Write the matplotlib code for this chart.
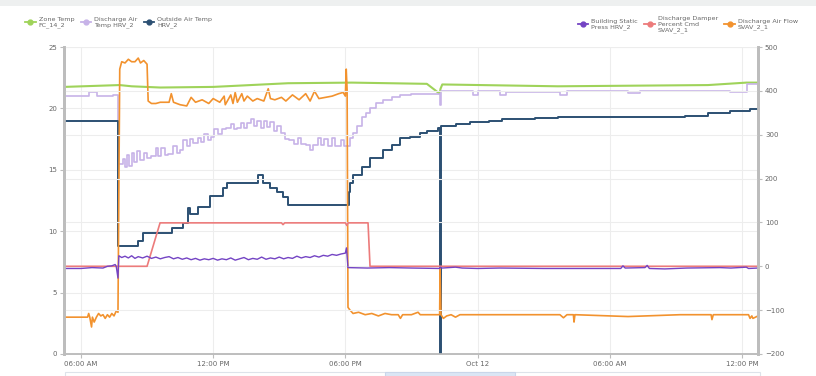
import pandas as pd
import matplotlib
matplotlib.use("Agg")
import matplotlib.pyplot as plt
import matplotlib.dates as mdates
from matplotlib.lines import Line2D
from matplotlib.patches import Rectangle

base = pd.Timestamp("2021-10-11")

# hours since Oct 11 00:00
zone_t = [5.23, 7.75, 8.3, 9.6, 12.0, 13.7, 15.4, 18.3, 21.7, 22.28, 22.32, 22.4, 27.65, 34.46, 36.2, 36.73]
zone_v = [21.75, 21.9, 21.8, 21.7, 21.75, 21.9, 22.05, 22.1, 22.0, 21.2, 21.6, 21.95, 21.8, 21.9, 22.1, 22.1]

dat_t = [5.23, 6.35, 6.75, 7.45, 7.68, 7.9, 8.0, 8.1, 8.2, 8.3, 8.4, 8.55, 8.7, 8.85, 9.0, 9.2, 9.4, 9.5,
         9.65, 9.8, 9.95, 10.2, 10.35, 10.5, 10.65, 10.8, 10.95, 11.1, 11.3, 11.45, 11.6, 11.75, 11.9,
         12.05, 12.2, 12.4, 12.6, 12.8, 12.95, 13.1, 13.25, 13.4, 13.55, 13.7, 13.85, 14.0, 14.15, 14.3,
         14.45, 14.6, 14.75, 14.9, 15.1, 15.25, 15.45, 15.65, 15.85, 16.0, 16.2, 16.4, 16.55, 16.75, 16.9,
         17.05, 17.2, 17.4, 17.55, 17.8, 17.95, 18.1, 18.22, 18.35, 18.55, 18.76, 18.95, 19.12, 19.4,
         19.71, 20.1, 20.48, 21.0, 21.71, 22.28, 22.36, 23.66, 23.8, 24.0, 25.0, 25.3, 27.74, 28.06,
         30.83, 31.38, 35.46, 36.23, 36.73]
dat_v = [21.0, 21.3, 21.0, 21.1, 15.5, 15.9, 15.2, 16.2, 15.3, 16.4, 15.6, 16.5, 15.8, 16.4, 16.0, 16.1,
         16.8, 16.1, 16.8, 16.2, 16.3, 16.9, 16.4, 16.6, 17.4, 16.9, 17.5, 17.2, 17.6, 17.3, 17.9, 17.4,
         17.7, 18.3, 17.9, 18.3, 18.4, 18.7, 18.3, 18.4, 18.8, 18.4, 18.8, 19.1, 18.6, 19.0, 18.4, 19.0,
         18.5, 18.9, 18.2, 18.6, 18.0, 17.5, 17.4, 17.1, 17.6, 17.1, 17.0, 16.6, 17.0, 17.6, 17.0, 17.5,
         16.9, 17.6, 16.9, 17.4, 16.9, 16.9, 17.6, 18.0, 18.6, 19.3, 19.6, 20.0, 20.4, 20.7, 20.9, 21.1,
         21.2, 21.2, 20.3, 21.4, 21.4, 21.1, 21.4, 21.1, 21.35, 21.1, 21.45, 21.25, 21.45, 21.3, 22.0, 22.0]

oat_t = [5.23, 7.68, 8.59, 8.81, 10.13, 10.63, 10.86, 10.93, 11.3, 11.86, 12.45, 12.63, 14.03, 14.26,
         14.58, 14.9, 15.17, 15.4, 18.12, 18.15, 18.21, 18.35, 18.76, 19.12, 19.71, 20.1, 20.48, 20.93,
         21.4, 21.71, 22.2, 22.3, 22.34, 23.0, 23.66, 24.5, 25.1, 26.6, 27.65, 33.4, 34.46, 35.46, 36.37, 36.73]
oat_v = [19.0, 8.8, 9.2, 9.85, 10.3, 10.7, 11.9, 11.4, 12.0, 12.9, 13.5, 13.9, 14.6, 13.9,
         13.5, 13.2, 12.8, 12.1, 12.1, 13.2, 13.9, 14.6, 15.2, 16.0, 16.6, 17.0, 17.6, 17.7,
         18.0, 18.2, 18.4, 0.0, 18.6, 18.75, 18.9, 19.0, 19.1, 19.2, 19.27, 19.4, 19.6, 19.8, 19.97, 19.97]

flow_t = [5.23, 6.3, 6.35, 6.4, 6.48, 6.52, 6.6, 6.7, 6.8, 6.9, 7.0, 7.1, 7.2, 7.3, 7.4, 7.5, 7.6, 7.68,
          7.76, 7.85, 8.0, 8.15, 8.3, 8.45, 8.6, 8.7, 8.85, 9.0, 9.05, 9.2, 9.4, 9.6, 10.0, 10.1, 10.2,
          10.5, 10.8, 11.0, 11.2, 11.5, 11.8, 12.0, 12.3, 12.5, 12.55, 12.8, 12.9, 13.0, 13.1, 13.3, 13.4,
          13.55, 13.8, 14.0, 14.3, 14.5, 14.6, 14.8, 15.1, 15.3, 15.6, 15.9, 16.2, 16.4, 16.6, 16.8, 17.1,
          17.4, 17.7, 17.9, 18.0, 18.04, 18.08, 18.12, 18.2, 18.35, 18.6, 18.9, 19.2, 19.5, 19.8, 20.1,
          20.4, 20.5, 20.6, 21.0, 21.3, 21.4, 22.28, 22.3, 22.34, 22.45, 22.6, 22.8, 23.0, 23.2, 23.5,
          24.0, 25.0, 27.74, 27.9, 28.06, 28.35, 28.38, 28.42, 30.83, 33.19, 34.6, 34.64, 34.7, 36.3,
          36.37, 36.45, 36.5, 36.73]
flow_v = [3.0, 3.0, 3.3, 3.0, 2.2, 3.0, 2.6, 3.0, 3.3, 3.1, 3.2, 2.9, 3.2, 3.0, 3.3, 3.1, 3.5, 3.4,
          23.2, 23.8, 23.7, 24.0, 23.8, 23.8, 24.1, 23.7, 23.9, 23.6, 20.6, 20.4, 20.4, 20.5, 20.5, 21.2,
          20.5, 20.3, 20.2, 20.9, 20.5, 20.7, 20.4, 20.8, 20.5, 21.0, 20.3, 21.1, 20.4, 21.3, 20.5, 21.2,
          20.6, 21.0, 20.6, 20.8, 20.6, 21.6, 20.8, 20.7, 20.9, 20.6, 21.1, 20.7, 21.2, 20.6, 21.4, 20.8,
          20.9, 21.0, 21.2, 21.3, 21.0, 23.2, 21.5, 3.8, 3.6, 3.3, 3.4, 3.2, 3.3, 3.1, 3.3, 3.2,
          3.2, 2.9, 3.2, 3.2, 3.4, 3.2, 3.2, 7.0, 3.2, 2.9, 3.1, 3.2, 3.0, 3.2, 3.2,
          3.2, 3.2, 3.2, 2.95, 3.2, 3.2, 2.6, 3.2, 3.05, 3.2, 3.2, 2.8, 3.2, 3.2,
          2.9, 3.1, 2.9, 3.1]

press_t = [5.23, 6.0, 6.5, 7.0, 7.2, 7.4, 7.55, 7.6, 7.68, 7.72, 7.85, 8.0, 8.15, 8.3, 8.45, 8.6, 8.8,
           9.0, 9.2, 9.4, 9.6, 9.8, 10.0, 10.2, 10.4, 10.6, 10.8, 11.0, 11.2, 11.4, 11.6, 11.8, 12.0,
           12.2, 12.4, 12.6, 12.8, 13.0, 13.2, 13.4, 13.6, 13.8, 14.0, 14.2, 14.4, 14.6, 14.8, 15.0,
           15.2, 15.4, 15.6, 15.8, 16.0, 16.2, 16.4, 16.6, 16.8, 17.0, 17.2, 17.4, 17.6, 17.8, 18.0,
           18.05, 18.12, 19.0, 20.0, 21.0, 22.28, 22.3, 22.4, 23.0, 23.3, 24.0, 25.0, 27.0, 30.5, 30.6,
           30.7, 31.6, 31.7, 31.8, 32.5, 33.5, 35.0, 35.5, 36.2, 36.3, 36.73]
press_v = [-5, -5, -3, -4, 0, 1, 4, 0, -27, 24, 20, 23, 19, 24, 18, 22, 19, 23, 18, 21, 17, 20, 22,
           17, 20, 16, 19, 15, 18, 14, 17, 15, 18, 14, 17, 15, 19, 14, 17, 20, 15, 18, 16, 21, 16,
           19, 17, 21, 17, 20, 18, 23, 19, 22, 20, 24, 21, 25, 23, 27, 25, 28, 30, 42, -3, -4, -3,
           -4, -5, -2, -4, -2, -4, -5, -4, -5, -5, 1, -4, -3, 2, -5, -6, -4, -3, -4, -2, -5, -4]

damper_t = [5.23, 9.0, 9.59, 15.1, 15.17, 15.25, 18.0, 18.07, 18.12, 19.03, 19.12, 36.73]
damper_v = [0, 0, 99, 99, 95, 99, 99, 93, 99, 99, 0, 0]


def times(h):
    return base + pd.to_timedelta(h, unit="h")


c_zone = "#9fd35a"
c_dat = "#c7b3e8"
c_oat = "#2c5073"
c_press = "#7444c4"
c_damper = "#ec7b7b"
c_flow = "#f2922e"
grey = "#bdbdbd"

fig = plt.figure(figsize=(8.16, 3.76), dpi=100)
ax = fig.add_axes([64 / 816, 1 - 354 / 376, (758 - 64) / 816, (354 - 47) / 376])
ax2 = ax.twinx()

ax.plot(times(zone_t), zone_v, color=c_zone, lw=1.5, zorder=3)
ax.plot(times(dat_t), dat_v, color=c_dat, lw=1.2, drawstyle="steps-post", zorder=3)
ax.plot(times(oat_t), oat_v, color=c_oat, lw=1.4, drawstyle="steps-post", zorder=4)
ax.plot(times(flow_t), flow_v, color=c_flow, lw=1.2, zorder=5)
ax2.plot(times(damper_t), damper_v, color=c_damper, lw=1.2)
ax2.plot(times(press_t), press_v, color=c_press, lw=1.0)

ax.set_ylim(0, 25)
ax2.set_ylim(-200, 500)
ax.set_xlim(times(5.23), times(36.73))
ax.set_yticks([0, 5, 10, 15, 20, 25])
ax2.set_yticks(range(-200, 501, 100))

ax.xaxis.set_major_locator(mdates.HourLocator(byhour=[0, 6, 12, 18]))
ax.xaxis.set_major_formatter(
    plt.FuncFormatter(lambda x, p: mdates.num2date(x).strftime("%b %d") if mdates.num2date(x).hour == 0
                      else mdates.num2date(x).strftime("%I:%M %p")))

ax.grid(True, color="#ededed", lw=0.8)
ax2.grid(True, axis="y", color="#ededed", lw=0.8)
ax.set_axisbelow(True)
ax2.set_axisbelow(True)

for a in (ax, ax2):
    a.spines["top"].set_visible(False)
    a.spines["left"].set_color(grey)
    a.spines["right"].set_color(grey)
    a.spines["bottom"].set_color(grey)
    a.spines["left"].set_linewidth(2)
    a.spines["right"].set_linewidth(2)
    a.spines["bottom"].set_linewidth(1.2)
    a.tick_params(labelsize=5, colors="#666666", length=3, width=0.8, pad=2)
    a.tick_params(axis="both", color=grey)

left_handles = [
    Line2D([], [], color=c_zone, marker="o", ms=3.5, lw=1.3),
    Line2D([], [], color=c_dat, marker="o", ms=3.5, lw=1.3),
    Line2D([], [], color=c_oat, marker="o", ms=3.5, lw=1.3),
]
right_handles = [
    Line2D([], [], color=c_press, marker="o", ms=3.5, lw=1.3),
    Line2D([], [], color=c_damper, marker="o", ms=3.5, lw=1.3),
    Line2D([], [], color=c_flow, marker="o", ms=3.5, lw=1.3),
]
fig.legend(left_handles, ["Zone Temp\nFC_14_2", "Discharge Air\nTemp HRV_2", "Outside Air Temp\nHRV_2"],
           loc="center left", bbox_to_anchor=(0.024, 0.94), ncol=3, frameon=False, fontsize=4.6,
           labelcolor="#666666", handlelength=1.6, handletextpad=0.5, columnspacing=1.0, labelspacing=0)
fig.legend(right_handles, ["Building Static\nPress HRV_2", "Discharge Damper\nPercent Cmd\nSVAV_2_1",
                           "Discharge Air Flow\nSVAV_2_1"],
           loc="center right", bbox_to_anchor=(0.985, 0.935), ncol=3, frameon=False, fontsize=4.6,
           labelcolor="#666666", handlelength=1.6, handletextpad=0.5, columnspacing=1.0, labelspacing=0)

# page chrome: top bar and range selector at the bottom
fig.patches.append(Rectangle((0, 1 - 6 / 376), 1, 6 / 376, transform=fig.transFigure,
                             facecolor="#eef0f0", edgecolor="none"))
fig.patches.append(Rectangle((65 / 816, 0), (760 - 65) / 816, 4 / 376, transform=fig.transFigure,
                             facecolor="white", edgecolor="#dde3ea", lw=0.8))
fig.patches.append(Rectangle((385 / 816, 0), (515 - 385) / 816, 4 / 376, transform=fig.transFigure,
                             facecolor="#dbe6f5", edgecolor="#c9d6ea", lw=0.8))

fig.savefig("out.png", dpi=100)
